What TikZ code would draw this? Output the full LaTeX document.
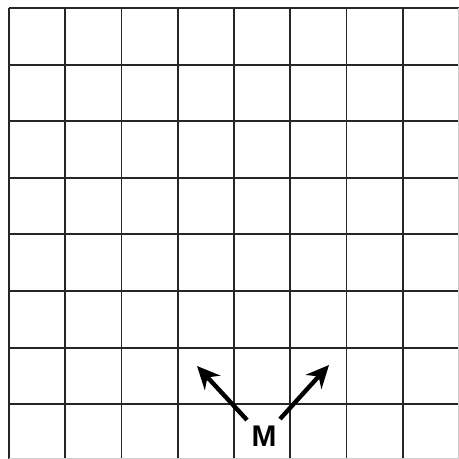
\documentclass[tikz,border=0pt]{standalone}
\usepackage{fontspec}
\setsansfont{Liberation Sans}
\usetikzlibrary{arrows.meta,positioning}

\begin{document}
\begin{tikzpicture}[x=0.02cm,y=-0.02cm,
gridline/.style={line width=1.1pt,black!85},
edgeline/.style={line width=0.5pt,black!20},
marrow/.style={line width=2.5pt,-{Stealth[length=13pt,width=12pt]}},
every node/.style={inner sep=1pt,font=\sffamily\bfseries\fontsize{17}{20}\selectfont}]
\useasboundingbox (0,0) rectangle (459,459);
% grid
\foreach \i in {0,...,7} {
  \draw[gridline] (9+\i*56.25,8) -- (9+\i*56.25,459);
  \draw[gridline] (9,8+\i*56.6) -- (459,8+\i*56.6);
}
\draw[edgeline] (458.7,8) -- (458.7,459);
\draw[edgeline] (9,458.7) -- (459,458.7);
% label and arrows
\node (M) at (264,436) {M};
\coordinate (tailL) at (247,420);
\coordinate (tailR) at (280,419);
\coordinate (tipL) at (197,366);
\coordinate (tipR) at (329,365);
\draw[marrow] (tailL) -- (tipL);
\draw[marrow] (tailR) -- (tipR);
\end{tikzpicture}
\end{document}
